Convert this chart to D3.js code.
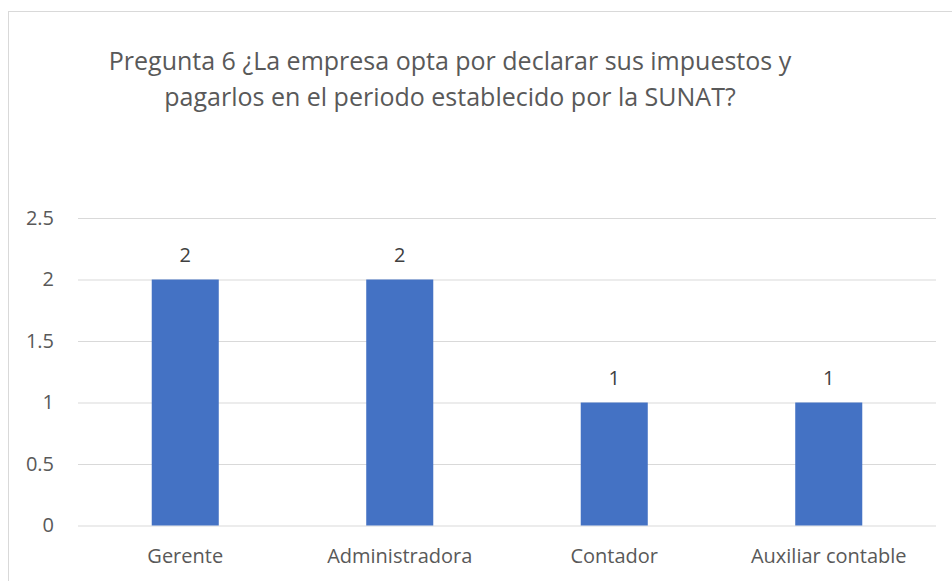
<!DOCTYPE html>
<html>
<head>
<meta charset="utf-8">
<script src="https://cdn.jsdelivr.net/npm/d3@7"></script>
<style>
body{margin:0;background:#fff;}
text{font-family:"Open Sans",sans-serif;}
</style>
</head>
<body>
<div id="chart"></div>
<script>
var categories = ['Gerente','Administradora','Contador','Auxiliar contable']
var values = [2,2,1,1]
var yTicks = [0,0.5,1,1.5,2,2.5]
var titleLines = ['Pregunta 6 ¿La empresa opta por declarar sus impuestos y','pagarlos en el periodo establecido por la SUNAT?']

var width = 952
var height = 581
var margin = {top:218,right:16,bottom:55.5,left:78}

var svg = d3.select('#chart')
			.append('svg')
			.attr('width',width)
			.attr('height',height)

// chart frame
svg.append('rect')
	.attr('x',8.5)
	.attr('y',11.5)
	.attr('width',960)
	.attr('height',600)
	.attr('fill','#fff')
	.attr('stroke','#d9d9d9')
	.attr('stroke-width',1)

var x = d3.scaleBand()
		.domain(categories)
		.range([margin.left,width-margin.right])
		.padding(0)

var y = d3.scaleLinear()
		.domain([0,2.5])
		.range([height-margin.bottom,margin.top])

var title = svg.append('text')
			.attr('x',450)
			.attr('y',70)
			.attr('text-anchor','middle')
			.attr('fill','#595959')
			.style('font-size','25px')

title.selectAll('tspan')
	.data(titleLines)
	.enter()
	.append('tspan')
	.attr('x',450)
	.attr('dy',function(d,i){ return i==0 ? 0 : 36 })
	.text(function(d){ return d })

// gridlines + y labels
var yAxis = d3.axisLeft(y)
			.tickValues(yTicks)
			.tickSize(-(width-margin.left-margin.right))
			.tickPadding(24)
			.tickFormat(function(d){ return d })

var gy = svg.append('g')
		.attr('transform','translate('+margin.left+',0)')
		.call(yAxis)
gy.select('.domain').remove()
gy.selectAll('.tick line').attr('stroke','#d9d9d9').attr('stroke-width',1)
gy.selectAll('.tick text')
	.attr('fill','#595959')
	.style('font-size','20px')
	.style('font-family','"Open Sans",sans-serif')

var barW = x.bandwidth()*0.3125

svg.selectAll('.bar')
	.data(values)
	.enter()
	.append('rect')
	.attr('class','bar')
	.attr('x',function(d,i){ return x(categories[i])+x.bandwidth()/2-barW/2 })
	.attr('y',function(d){ return y(d) })
	.attr('width',barW)
	.attr('height',function(d){ return y(0)-y(d) })
	.attr('fill','#4472c4')

svg.selectAll('.lbl')
	.data(values)
	.enter()
	.append('text')
	.attr('class','lbl')
	.attr('x',function(d,i){ return x(categories[i])+x.bandwidth()/2 })
	.attr('y',function(d){ return y(d)-18 })
	.attr('text-anchor','middle')
	.attr('fill','#404040')
	.style('font-size','20px')
	.text(function(d){ return d })

var xAxis = d3.axisBottom(x).tickSize(0).tickPadding(23)
var gx = svg.append('g')
		.attr('transform','translate(0,'+y(0)+')')
		.call(xAxis)
gx.select('.domain').remove()
gx.selectAll('.tick text')
	.attr('fill','#595959')
	.style('font-size','20px')
	.style('font-family','"Open Sans",sans-serif')
</script>
</body>
</html>
